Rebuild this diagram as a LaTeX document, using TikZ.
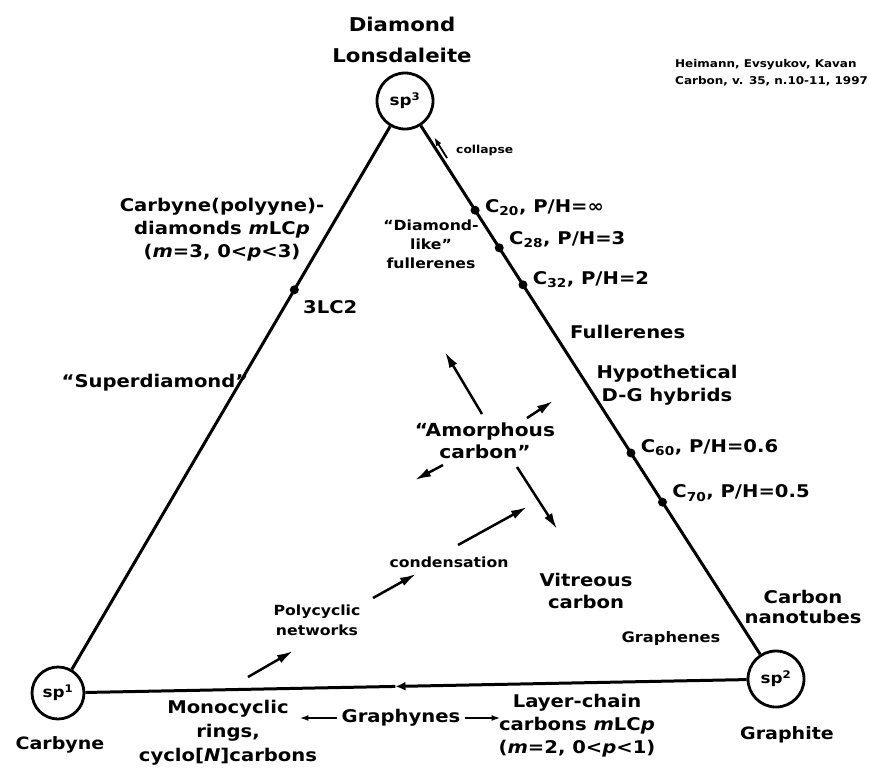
\documentclass[tikz,border=0pt]{standalone}
\usepackage{fontspec}
\setmainfont{DejaVu Sans}[FakeStretch=1.12]
\usetikzlibrary{calc,positioning,arrows.meta}

\tikzset{
  hyb/.style={circle, draw, line width=2.8pt, minimum size=56pt, inner sep=0pt,
    font=\fontsize{15}{17}\selectfont\bfseries},
  edge/.style={line width=3pt},
  edot/.style={circle, fill, inner sep=0pt, minimum size=9pt},
  big/.style={align=center, inner sep=0pt, font=\fontsize{19}{31}\selectfont\bfseries},
  lbl/.style={align=center, inner sep=0pt, font=\fontsize{17.5}{23}\selectfont\bfseries},
  sml/.style={align=center, inner sep=0pt, font=\fontsize{14}{19}\selectfont\bfseries},
  arr/.style={line width=2.5pt, -{Latex[length=16pt,width=9pt]}},
  thinarr/.style={line width=1.8pt, -{Latex[length=9pt,width=6pt]}}
}

\begin{document}
\begin{tikzpicture}[x=1pt,y=-1pt]
  \useasboundingbox (0,0) rectangle (869,769);

  % corners of the triangle
  \node[hyb] (sp3) at (405,101) {sp\textsuperscript{3}};
  \node[hyb, minimum size=52pt] (sp1) at (58,693) {sp\textsuperscript{1}};
  \node[hyb] (sp2) at (776,679) {sp\textsuperscript{2}};

  \node[big] (diamond) at (402,40) {Diamond\\Lonsdaleite};
  \node[big, font=\fontsize{17}{20}\selectfont\bfseries] (carbyne) at (60,745) {Carbyne};
  \node[big, font=\fontsize{17}{20}\selectfont\bfseries] (graphite) at (787,735) {Graphite};

  \node[sml, font=\fontsize{10.7}{17}\selectfont\bfseries, align=left, anchor=west] (ref) at (675,73)
    {Heimann, Evsyukov, Kavan\\Carbon, v. 35, n.10-11, 1997};

  % sides
  \coordinate (bmid) at ($(sp1)!0.47!(sp2)$);
  \draw[edge] (sp3) -- (sp1);
  \draw[edge] (sp3) -- (sp2);
  \draw[edge, -{Latex[length=10pt,width=9pt]}] (sp2) -- (bmid);
  \draw[edge] (bmid) -- (sp1);

  % points on the sides
  \foreach \t/\n in {0.189/c20, 0.254/c28, 0.318/c32, 0.609/c60, 0.694/c70}
    \node[edot] (\n) at ($(sp3)!\t!(sp2)$) {};
  \node[edot] (lc) at ($(sp3)!0.319!(sp1)$) {};

  \node[lbl, right=5pt of c20, yshift=3pt] (c20l) {C\textsubscript{20}, P/H=∞};
  \node[lbl, right=5pt of c28, yshift=8pt] (c28l) {C\textsubscript{28}, P/H=3};
  \node[lbl, right=5pt of c32, yshift=5pt] (c32l) {C\textsubscript{32}, P/H=2};
  \node[lbl, right=5pt of c60, yshift=5pt] (c60l) {C\textsubscript{60}, P/H=0.6};
  \node[lbl, right=5pt of c70, yshift=9pt] (c70l) {C\textsubscript{70}, P/H=0.5};
  \node[lbl, right=4pt of lc, yshift=-17pt] (lcl) {3LC2};

  % right side
  \node[lbl, anchor=west] (fuller) at (570,332) {Fullerenes};
  \node[lbl] (hybrid) at (667,385) {Hypothetical\\D-G hybrids};
  \node[lbl, font=\fontsize{17.5}{20}\selectfont\bfseries] (tubes) at (803,607) {Carbon\\nanotubes};
  \node[sml, font=\fontsize{14.5}{16}\selectfont\bfseries] (graphenes) at (671,638) {Graphenes};
  \node[sml] (dlike) at (431,244) {``Diamond-\\like''\\fullerenes};

  \coordinate (colT) at (447,158);
  \coordinate (colH) at (434,137);
  \draw[thinarr] (colT) -- (colH);
  \node[sml, font=\fontsize{11}{12}\selectfont\bfseries, anchor=west] (collapse) at (456,150) {collapse};

  % left side
  \node[lbl] (cdiam) at (222,230) {Carbyne(polyyne)-\\diamonds \textit{m}LC\textit{p}\\(\textit{m}=3, 0<\textit{p}<3)};
  \node[lbl] (superd) at (155,383) {``Superdiamond''};

  % bottom side
  \node[lbl, font=\fontsize{17.5}{24}\selectfont\bfseries] (mono) at (228,733) {Monocyclic\\rings,\\cyclo[\textit{N}]carbons};
  \node[lbl, inner sep=4pt] (graphynes) at (401,718) {Graphynes};
  \coordinate[left=38pt of graphynes] (gyL);
  \coordinate[right=36pt of graphynes] (gyR);
  \draw[thinarr] (graphynes.west) -- (gyL);
  \draw[thinarr] (graphynes.east) -- (gyR);
  \node[lbl] (layer) at (577,726) {Layer-chain\\carbons \textit{m}LC\textit{p}\\(\textit{m}=2, 0<\textit{p}<1)};

  % interior
  \node[lbl, font=\fontsize{18}{22}\selectfont\bfseries] (amorph) at (485,441) {``Amorphous\\carbon''};
  \node[lbl, font=\fontsize{17.5}{22}\selectfont\bfseries] (vitreous) at (586,591) {Vitreous\\carbon};
  \node[sml] (condens) at (449,562) {condensation};
  \node[sml, font=\fontsize{14}{20}\selectfont\bfseries] (polycyc) at (317,620) {Polycyclic\\networks};

  \coordinate (amUL) at (445,352);
  \coordinate (amUR) at (553,401);
  \coordinate (amDL) at (415,480);
  \coordinate (amDR) at (557,529);
  \draw[arr] (482,414) -- (amUL);
  \draw[arr] (527,418) -- (amUR);
  \draw[arr] (443,465) -- (amDL);
  \draw[arr] (517,467) -- (amDR);

  \coordinate (coT) at (458,545);
  \coordinate (coH) at (527,507);
  \coordinate (poT) at (373,598);
  \coordinate (poH) at (416,574);
  \coordinate (moT) at (248,677);
  \coordinate (moH) at (293,651);
  \draw[arr] (coT) -- (coH);
  \draw[arr] (poT) -- (poH);
  \draw[arr] (moT) -- (moH);
\end{tikzpicture}
\end{document}
